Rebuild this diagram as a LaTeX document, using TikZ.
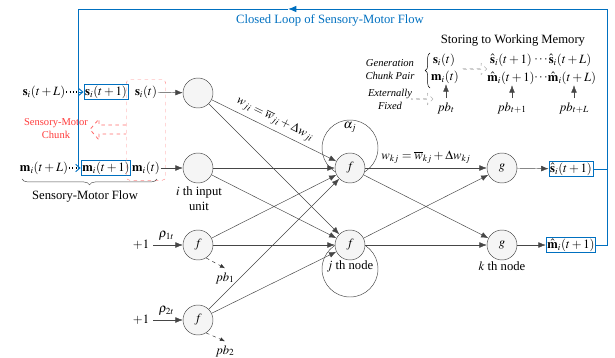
\documentclass[tikz,border=0pt]{standalone}
\usepackage{mathptmx}
\usepackage{fontspec}
\setmainfont{Liberation Serif}
\usetikzlibrary{arrows.meta,shapes.arrows,decorations.pathreplacing,fit}
\definecolor{loopblue}{RGB}{0,112,192}
\definecolor{chunkred}{RGB}{255,60,60}
\definecolor{linegray}{RGB}{70,70,70}

\begin{document}
\begin{tikzpicture}[x=0.3mm,y=-0.3mm,font=\fontsize{10.8}{13}\selectfont,
		neuron/.style={circle,draw=linegray,fill=gray!8,minimum size=9mm,inner sep=0pt},
		ring/.style={circle,draw=linegray,minimum size=16.8mm},
		conn/.style={draw=linegray,-{Latex[length=2.2mm,width=1.7mm]}},
		seqbox/.style={draw=loopblue,line width=0.8pt,inner sep=1pt},
		seqtext/.style={inner sep=0.6pt},
		loopline/.style={draw=loopblue,line width=0.8pt},
		chunkbox/.style={draw=chunkred!60,dashed,rounded corners=3pt,inner sep=1.2mm},
		hollow/.style={single arrow,dashed,minimum width=3.4mm,single arrow head extend=0.9mm,inner sep=0pt},
		pbarrow/.style={draw=black!80,dashed,-{Latex[length=1.5mm,width=1.2mm]}}]
	\useasboundingbox (0,0) rectangle (615,357);
		\coordinate (ltop) at (78,9);
		\coordinate (rtop) at (607,9);
		\coordinate (tarrow) at (288,9);
		\coordinate (ls) at (78,92);
		\coordinate (lm) at (78,168);
		\node[text=loopblue] (looplab) at (330,20) {Closed Loop of Sensory-Motor Flow};

		\node[seqtext] (sL) at (44,92) {$\mathbf{s}_i(t+L)$};
		\node[seqtext] (mL) at (44,168) {$\mathbf{m}_i(t+L)$};
		\node[seqbox] (sbox) at (106,92) {$\mathbf{s}_i(t+1)$};
		\node[seqbox] (mbox) at (106,168) {$\mathbf{m}_i(t+1)$};
		\node[seqtext] (st) at (146,92) {$\mathbf{s}_i(t)$};
		\node[seqtext] (mt) at (146,168) {$\mathbf{m}_i(t)$};
		\node[chunkbox,fit=(st)(mt),inner sep=1.5mm] (chunk) {};
		\draw[draw=chunkred!75,dashed,line width=0.7pt] (chunk.west |- 0,125) -- (99,125) -- (99,119) -- (90,129.5) -- (99,140) -- (99,134) -- (chunk.west |- 0,134);
		\node[text=chunkred,align=center,font=\small] (chunklab) at (56,129) {Sensory-Motor\\Chunk};
		\draw[dotted,line width=0.9pt] (sL) -- (ls);
		\draw[dotted,line width=0.9pt] (mL) -- (lm);
		\draw[decorate,decoration={brace,amplitude=5pt,mirror},draw=black!70] (22,179) -- (157,179);
		\node (flowlab) at (85,196) {Sensory-Motor Flow};

		\node[ring] (ring1) at (350,148) {};
		\node[ring] (ring2) at (350,269) {};
		\node (alpha) at (350,127) {$\alpha_j$};

		\node[neuron] (in1) at (198,93) {};
		\node[neuron] (in2) at (198,168) {};
		\node[neuron] (fin1) at (198,245) {$f$};
		\node[neuron] (fin2) at (198,320) {$f$};
		\node[neuron] (h1) at (350,168) {$f$};
		\node[neuron] (h2) at (350,245) {$f$};
		\node[neuron] (g1) at (502,168) {$g$};
		\node[neuron] (g2) at (502,245) {$g$};
		\node[align=center] (inlab) at (199,199) {$i$ th input\\unit};
		\node (jlab) at (350,266) {$j$ th node};
		\node (klab) at (502,266) {$k$ th node};
		\node (p1) at (141,245) {$+1$};
		\node (p2) at (141,320) {$+1$};
		\node (pb1) at (225,278) {$pb_1$};
		\node (pb2) at (225,351) {$pb_2$};

		\node[seqbox] (shat) at (571,169) {$\hat{\mathbf{s}}_i(t+1)$};
		\node[seqbox] (mhat) at (571,245) {$\hat{\mathbf{m}}_i(t+1)$};

		\draw[conn] (st) -- (in1);
		\draw[conn] (mt) -- (in2);
		\draw[conn] (p1) -- node[above,pos=0.45] {$\rho_{1t}$} (fin1);
		\draw[conn] (p2) -- node[above,pos=0.45] {$\rho_{2t}$} (fin2);
		\draw[pbarrow] (fin1.-58) -- (pb1.north);
		\draw[pbarrow] (fin2.-58) -- (pb2.north);
		\draw[conn] (in1) -- node[sloped,above,pos=0.47] {$w_{ji}=\overline{w}_{ji}+\Delta w_{ji}$} (h1);
		\draw[conn] (in1) -- (h2);
		\draw[conn] (in2) -- (h1);
		\draw[conn] (in2) -- (h2);
		\draw[conn] (fin1) -- (h1);
		\draw[conn] (fin1) -- (h2);
		\draw[conn] (fin2) -- (h1);
		\draw[conn] (fin2) -- (h2);
		\draw[conn] (h1) -- node[above] {$w_{kj}=\overline{w}_{kj}+\Delta w_{kj}$} (g1);
		\draw[conn] (h1) -- (g2);
		\draw[conn] (h2) -- (g1);
		\draw[conn] (h2) -- (g2);
		\draw[conn] (g1) -- (shat);
		\draw[conn] (g2) -- (mhat);

		\draw[loopline,-{Latex[length=2.5mm,width=2mm]}] (mhat.east) -| (rtop) -- (tarrow);
		\draw[loopline] (tarrow) -- (ltop) -- (lm);
		\draw[loopline] (shat.east) -- (shat.east -| rtop);
		\draw[loopline,-{Straight Barb[length=1.3mm,width=2.2mm]}] (ls) -- (sbox);
		\draw[loopline,-{Straight Barb[length=1.3mm,width=2.2mm]}] (lm) -- (mbox);

		\node (store) at (513,40) {Storing to Working Memory};
		\node[align=center,font=\small\itshape] (genlab) at (390,70) {Generation\\Chunk Pair};
		\node[align=center,font=\small\itshape] (extlab) at (390,99) {Externally\\Fixed};
		\node[seqtext] (gs) at (444,60) {$\mathbf{s}_i(t)$};
		\node[seqtext] (gm) at (445,77) {$\mathbf{m}_i(t)$};
		\draw[decorate,decoration={brace,amplitude=4pt}] (430,88) -- (430,53);
		\node[hollow,draw=gray!60,minimum height=7.5mm] (pairarrow) at (474,69) {};
		\node[hollow,draw=gray!60,minimum height=6.5mm] (extarrow) at (422,99) {};
		\node[seqtext] (hs1) at (511,60) {$\hat{\mathbf{s}}_i(t+1)$};
		\node[seqtext] (hsdots) at (541,60) {$\cdots$};
		\node[seqtext] (hsL) at (570,60) {$\hat{\mathbf{s}}_i(t+L)$};
		\node[seqtext] (hm1) at (511,78) {$\hat{\mathbf{m}}_i(t+1)$};
		\node[seqtext] (hmdots) at (541,78) {$\cdots$};
		\node[seqtext] (hmL) at (572,78) {$\hat{\mathbf{m}}_i(t+L)$};
		\node (pbt) at (446,108) {$pb_t$};
		\node (pbt1) at (512,108) {$pb_{t+1}$};
		\node (pbtL) at (574,108) {$pb_{t+L}$};
		\draw[conn] (pbt) -- (pbt |- gm.south);
		\draw[conn] (pbt1) -- (pbt1 |- hm1.south);
		\draw[conn] (pbtL) -- (pbtL |- hmL.south);
\end{tikzpicture}
\end{document}
